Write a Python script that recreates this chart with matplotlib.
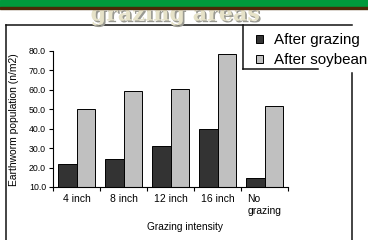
import matplotlib
matplotlib.use("Agg")
import matplotlib.pyplot as plt
import matplotlib.patheffects as pe
from matplotlib.lines import Line2D
from matplotlib.patches import Rectangle, Patch
import numpy as np

plt.rcParams['font.family'] = ['Liberation Sans', 'DejaVu Sans']

categories = ["4 inch", "8 inch", "12 inch", "16 inch", "No\ngrazing"]
after_grazing = [21.8, 24.4, 31.3, 39.9, 14.5]
after_soybean = [50.0, 59.4, 60.4, 78.4, 51.5]
series_names = ["After grazing", "After soybean"]

W, H = 368, 240
fig = plt.figure(figsize=(W / 100, H / 100), dpi=100)


def px(x, y):
    return x / W, 1 - y / H


def line(x0, y0, x1, y1, lw=1.1, color="#111111"):
    a, b = px(x0, y0)
    c, d = px(x1, y1)
    fig.add_artist(Line2D([a, c], [b, d], transform=fig.transFigure, lw=lw, color=color))


# slide header: title text partly under the green band
fig.text(175 / W, px(0, 20.5)[1], "grazing areas", ha="center", va="baseline",
         fontsize=16, fontweight="bold", family="DejaVu Serif", color="#e6e2c8",
         zorder=2, path_effects=[pe.withSimplePatchShadow(offset=(1.2, -1.2),
                                                          shadow_rgbFace="#9a9a92",
                                                          alpha=1)])
fig.add_artist(Rectangle(px(0, 7), 1, 7 / H, transform=fig.transFigure,
                         color="#009a3c", zorder=5))
fig.add_artist(Rectangle(px(0, 9), 1, 2 / H, transform=fig.transFigure,
                         color="#4a2a08", zorder=5))

# frame lines around the chart and legend
line(5.5, 25, 352, 25)
line(5.5, 25, 5.5, 240)
line(243, 25, 243, 69)
line(243, 69, 318, 69)
line(352, 73, 352, 240)

# chart
l, b = px(53, 187)
r, t = px(288, 51)
ax = fig.add_axes([l, b, r - l, t - b])
x = np.arange(len(categories))
bw = 0.4
ax.bar(x - bw / 2, np.array(after_grazing) - 10, bw, bottom=10, color="#333333",
       edgecolor="black", linewidth=0.7)
ax.bar(x + bw / 2, np.array(after_soybean) - 10, bw, bottom=10, color="#c0c0c0",
       edgecolor="black", linewidth=0.7)
ax.set_xlim(-0.5, len(categories) - 0.5)
ax.set_ylim(10, 80)
ax.set_yticks(np.arange(10, 81, 10))
ax.set_yticklabels([f"{v:.1f}" for v in np.arange(10, 81, 10)], fontsize=6.3)
ax.set_xticks(x)
ax.set_xticklabels(categories, fontsize=7.5, multialignment="left")
ax.set_xticks(np.arange(-0.5, len(categories)), minor=True)
ax.tick_params(axis="x", which="major", length=0, pad=5)
ax.tick_params(axis="x", which="minor", length=3, width=0.8, direction="out")
ax.tick_params(axis="y", length=3, width=0.8, pad=2)
for s in ["top", "right"]:
    ax.spines[s].set_visible(False)
for s in ["left", "bottom"]:
    ax.spines[s].set_linewidth(0.8)

fig.text(14 / W, px(0, 120)[1], "Earthworm population (n/m2)", rotation=90,
         ha="center", va="center", fontsize=7.4)
fig.text(185 / W, px(0, 227)[1], "Grazing intensity", ha="center", va="center",
         fontsize=7.3)

handles = [Patch(facecolor="#333333", edgecolor="black", linewidth=0.7),
           Patch(facecolor="#c0c0c0", edgecolor="black", linewidth=0.7)]
fig.legend(handles, series_names, loc="upper left", bbox_to_anchor=px(256, 33),
           frameon=False, fontsize=10.9, handlelength=0.45, handleheight=0.45,
           handletextpad=0.75, labelspacing=0.42, borderpad=0, borderaxespad=0)

fig.savefig("out.png", dpi=100)
